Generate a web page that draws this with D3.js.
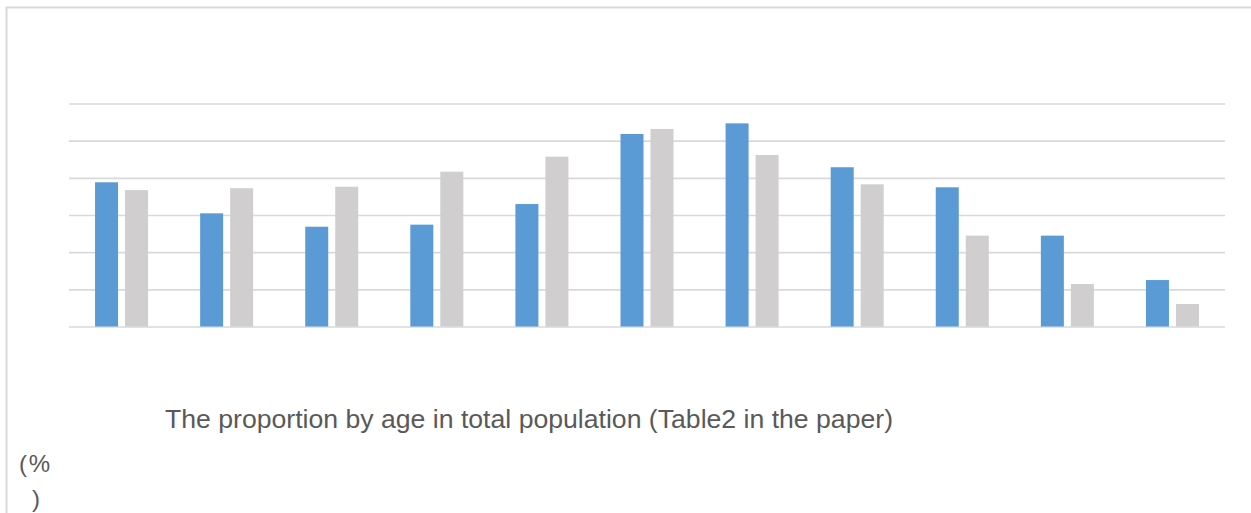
<!DOCTYPE html>
<html>
<head>
<meta charset="utf-8">
<script src="https://cdn.jsdelivr.net/npm/d3@7"></script>
<style>
  html, body { margin: 0; padding: 0; background: #ffffff; }
  svg { display: block; }
</style>
</head>
<body>
<svg id="chart" width="1251" height="513"></svg>
<script>
// Age groups (unlabelled on the chart) and the two series, in percent
const categories = ["1", "2", "3", "4", "5", "6", "7", "8", "9", "10", "11"];
const seriesNames = ["A", "B"];
const seriesA = [7.76, 6.09, 5.37, 5.48, 6.59, 10.36, 10.93, 8.57, 7.49, 4.89, 2.50];
const seriesB = [7.34, 7.44, 7.52, 8.33, 9.14, 10.63, 9.23, 7.65, 4.89, 2.29, 1.21];
const yTicks = [0, 2, 4, 6, 8, 10, 12];
const titleText = "The proportion by age in total population (Table2 in the paper)";
const unitOpen = "(%";
const unitClose = ")";

const colors = { A: "#5B9BD5", B: "#D0CECE" };

const svg = d3.select("#chart");

// outer frame (top and left edges visible)
svg.append("rect")
  .attr("x", 6.5).attr("y", 7.5)
  .attr("width", 1300).attr("height", 600)
  .attr("fill", "none")
  .attr("stroke", "#d9d9d9")
  .attr("stroke-width", 2);

const plot = { left: 69, right: 1225, top: 103.5, bottom: 326.5 };

const x0 = d3.scaleBand()
  .domain(categories)
  .range([plot.left, plot.right])
  .paddingInner(0).paddingOuter(0);

const x1 = d3.scaleBand()
  .domain(seriesNames)
  .range([0, x0.bandwidth()])
  .paddingInner(0.233)
  .paddingOuter(0.868);

const y = d3.scaleLinear()
  .domain([0, 12])
  .range([plot.bottom, plot.top]);

// horizontal gridlines drawn from the axis ticks
const grid = svg.append("g")
  .attr("transform", `translate(${plot.left},0)`)
  .call(d3.axisLeft(y)
    .tickValues(yTicks)
    .tickSize(-(plot.right - plot.left))
    .tickFormat(""));
grid.select(".domain").remove();
grid.selectAll(".tick line")
  .attr("stroke", "#d9d9d9")
  .attr("stroke-width", 1.6);

const rows = categories.map((c, i) => ({ cat: c, A: seriesA[i], B: seriesB[i] }));

const groups = svg.append("g").selectAll("g")
  .data(rows)
  .join("g")
  .attr("transform", d => `translate(${x0(d.cat)},0)`);

groups.selectAll("rect")
  .data(d => seriesNames.map(k => ({ key: k, value: d[k] })))
  .join("rect")
  .attr("x", d => x1(d.key))
  .attr("y", d => y(d.value))
  .attr("width", x1.bandwidth())
  .attr("height", d => y(0) - y(d.value))
  .attr("fill", d => colors[d.key]);

// title below the plot
svg.append("text")
  .attr("x", 165)
  .attr("y", 428)
  .attr("font-family", "'Liberation Sans', Arial, sans-serif")
  .attr("font-size", 25.5)
  .attr("fill", "#595959")
  .attr("textLength", 728)
  .attr("lengthAdjust", "spacingAndGlyphs")
  .text(titleText);

// unit label, wrapped over two lines
svg.append("text")
  .attr("x", 19)
  .attr("y", 472)
  .attr("font-family", "'Liberation Sans', Arial, sans-serif")
  .attr("font-size", 24)
  .attr("fill", "#595959")
  .attr("textLength", 31)
  .attr("lengthAdjust", "spacing")
  .text(unitOpen);

svg.append("text")
  .attr("x", 32)
  .attr("y", 507)
  .attr("font-family", "'Liberation Sans', Arial, sans-serif")
  .attr("font-size", 24)
  .attr("fill", "#595959")
  .text(unitClose);
</script>
</body>
</html>
